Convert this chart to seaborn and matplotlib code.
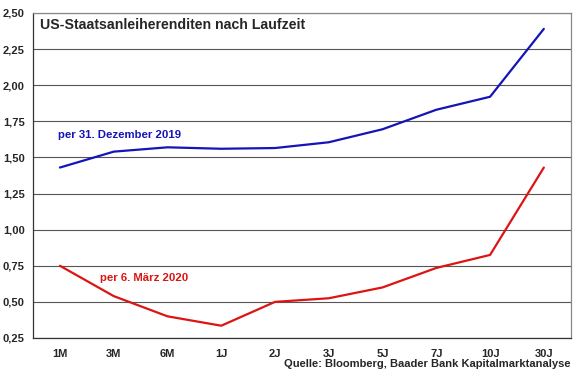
import matplotlib.pyplot as plt
import matplotlib.ticker as mticker
import seaborn as sns
import pandas as pd

laufzeiten = ["1M", "3M", "6M", "1J", "2J", "3J", "5J", "7J", "10J", "30J"]
rendite_dez_2019 = [1.43, 1.54, 1.57, 1.56, 1.565, 1.605, 1.695, 1.83, 1.92, 2.39]
rendite_maerz_2020 = [0.75, 0.54, 0.40, 0.335, 0.50, 0.525, 0.60, 0.735, 0.825, 1.43]
y_ticks = [0.25, 0.50, 0.75, 1.00, 1.25, 1.50, 1.75, 2.00, 2.25, 2.50]

sns.set_style("white")
plt.rcParams['font.family'] = ['Liberation Sans', 'DejaVu Sans']

df = pd.DataFrame({
    "pos": list(range(len(laufzeiten))) * 2,
    "rendite": rendite_dez_2019 + rendite_maerz_2020,
    "serie": ["dez"] * len(laufzeiten) + ["mar"] * len(laufzeiten),
})

fig = plt.figure(figsize=(5.8, 3.75), dpi=100)
ax = fig.add_axes([0.057, 0.0987, 0.927, 0.8667])

sns.lineplot(data=df, x="pos", y="rendite", hue="serie",
             palette={"dez": "#1414b8", "mar": "#dc1414"},
             linewidth=1.6, legend=False, ax=ax)

ax.set_xlim(-0.5, len(laufzeiten) - 0.5)
ax.set_ylim(0.25, 2.50)
ax.set_yticks(y_ticks)
ax.yaxis.set_major_formatter(mticker.FuncFormatter(lambda v, p: f"{v:.2f}".replace(".", ",")))
ax.set_xticks(range(len(laufzeiten)))
ax.set_xticklabels(laufzeiten)
ax.set_xticks([i - 0.5 for i in range(len(laufzeiten) + 1)], minor=True)
ax.tick_params(axis="x", which="major", length=0, pad=8)
ax.tick_params(axis="x", which="minor", length=4, width=0.8, color="#333333", direction="out")
ax.tick_params(axis="y", length=4, width=0.8, color="#333333", direction="out", pad=2)
ax.grid(axis="y", color="#555555", linewidth=0.8)
ax.set_axisbelow(True)
for lbl in ax.get_xticklabels() + ax.get_yticklabels():
    lbl.set_fontweight("bold")
    lbl.set_fontsize(8)
for side in ["left", "bottom"]:
    ax.spines[side].set_color("#333333")
    ax.spines[side].set_linewidth(0.9)
for side in ["top", "right"]:
    ax.spines[side].set_color("#888888")
    ax.spines[side].set_linewidth(0.9)
ax.set_xlabel("")
ax.set_ylabel("")

ax.text(0.013, 0.963, "US-Staatsanleiherenditen nach Laufzeit", transform=ax.transAxes,
        fontsize=10.2, fontweight="bold", ha="left", va="center")
ax.text(-0.04, 1.655, "per 31. Dezember 2019", color="#1414b8", fontsize=8.2,
        fontweight="bold", ha="left", va="center")
ax.text(0.74, 0.665, "per 6. März 2020", color="#dc1414", fontsize=8.2,
        fontweight="bold", ha="left", va="center")
fig.text(0.984, 1 - 364 / 375, "Quelle: Bloomberg, Baader Bank Kapitalmarktanalyse",
         fontsize=8.0, fontweight="bold", ha="right", va="center")

fig.savefig("out.png", dpi=100)
